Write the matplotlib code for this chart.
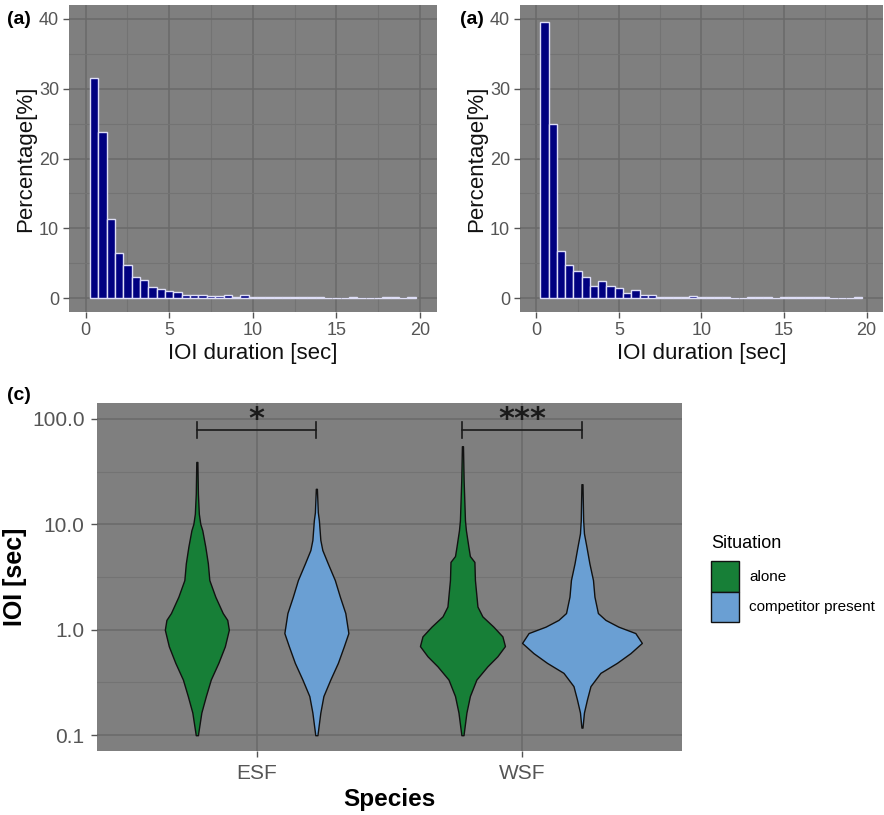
import numpy as np
import matplotlib
matplotlib.use('Agg')
import matplotlib.pyplot as plt
from matplotlib.patches import Patch
from matplotlib.ticker import FixedLocator, NullFormatter

plt.rcParams['font.family'] = ['Liberation Sans', 'DejaVu Sans']

# histogram bins (centre of each 0.5 s bin)
bin_centers = [0.5, 1.0, 1.5, 2.0, 2.5, 3.0, 3.5, 4.0, 4.5, 5.0,
               5.5, 6.0, 6.5, 7.0, 7.5, 8.0, 8.5, 9.0, 9.5, 10.0,
               10.5, 11.0, 11.5, 12.0, 12.5, 13.0, 13.5, 14.0, 14.5, 15.0,
               15.5, 16.0, 16.5, 17.0, 17.5, 18.0, 18.5, 19.0, 19.5]
pct_left = [31.5, 23.8, 11.3, 6.5, 4.7, 3.1, 2.6, 1.6, 1.3, 1.0,
            0.85, 0.5, 0.5, 0.5, 0.35, 0.3, 0.5, 0.2, 0.45, 0.1,
            0.1, 0.1, 0.1, 0.1, 0.1, 0.1, 0.1, 0.1, 0.0, 0.0,
            0.0, 0.15, 0.0, 0.0, 0.0, 0.1, 0.1, 0.05, 0.15]
pct_right = [39.6, 24.9, 6.8, 4.75, 3.85, 3.1, 1.8, 2.4, 1.7, 1.5,
             0.76, 1.1, 0.48, 0.48, 0.1, 0.1, 0.1, 0.1, 0.35, 0.1,
             0.1, 0.1, 0.1, 0.0, 0.0, 0.1, 0.1, 0.1, 0.0, 0.1,
             0.1, 0.1, 0.1, 0.1, 0.1, 0.05, 0.05, 0.05, 0.15]

# violin outlines: IOI value [sec] and full width (in category units)
species = ['ESF', 'WSF']
situations = ['alone', 'competitor present']
sit_colors = ['#177F37', '#6A9FD3']

esf_alone_ioi = [0.1, 0.164, 0.235, 0.337, 0.485, 0.697, 1.0, 1.24, 1.44, 2.06,
                 2.96, 4.26, 6.11, 8.77, 10.1, 12.6, 19.5, 39]
esf_alone_w = [0.008, 0.034, 0.068, 0.105, 0.162, 0.211, 0.241, 0.229, 0.195, 0.139,
               0.094, 0.083, 0.064, 0.041, 0.026, 0.015, 0.008, 0.004]
esf_comp_ioi = [0.1, 0.164, 0.235, 0.337, 0.485, 0.697, 0.93, 1.44, 2.06, 2.96,
                4.26, 5.7, 7.1, 10.9, 13, 21.7]
esf_comp_w = [0.008, 0.030, 0.053, 0.105, 0.162, 0.207, 0.241, 0.218, 0.177, 0.139,
              0.086, 0.045, 0.030, 0.019, 0.011, 0.004]
wsf_alone_ioi = [0.1, 0.164, 0.235, 0.337, 0.45, 0.56, 0.70, 0.865, 1.07, 1.34,
                 1.66, 2.96, 4.4, 5.0, 6.1, 8.8, 10.9, 26, 55]
wsf_alone_w = [0.008, 0.030, 0.056, 0.105, 0.188, 0.263, 0.320, 0.301, 0.233, 0.150,
               0.113, 0.094, 0.090, 0.056, 0.045, 0.026, 0.019, 0.009, 0.004]
wsf_comp_ioi = [0.118, 0.164, 0.219, 0.292, 0.39, 0.485, 0.60, 0.75, 0.93, 1.07,
                1.24, 1.44, 2.06, 2.96, 4.26, 6.1, 8.2, 10.9, 24]
wsf_comp_w = [0.004, 0.015, 0.038, 0.064, 0.139, 0.263, 0.365, 0.451, 0.402, 0.274,
              0.177, 0.120, 0.094, 0.083, 0.056, 0.034, 0.015, 0.009, 0.004]

sig_labels = ['*', '***']
sig_height = 79

BG = '#7f7f7f'
TICK = '#555555'


def style_panel(ax):
    ax.set_facecolor(BG)
    for s in ax.spines.values():
        s.set_visible(False)
    ax.grid(which='major', color='#6a6a6a', lw=1.1)
    ax.grid(which='minor', color='#737373', lw=0.8)
    ax.set_axisbelow(True)
    ax.tick_params(which='major', length=4, width=1, color=TICK, labelcolor=TICK)
    ax.tick_params(which='minor', length=0)


def draw_hist(ax, values):
    style_panel(ax)
    ax.bar(bin_centers, values, width=0.5, color='#000080', edgecolor='#dedef6', linewidth=1.0)
    ax.set_xlim(-1, 21)
    ax.set_ylim(-2, 42)
    ax.set_xticks([0, 5, 10, 15, 20])
    ax.set_xticks([2.5, 7.5, 12.5, 17.5], minor=True)
    ax.set_yticks([0, 10, 20, 30, 40])
    ax.set_yticks([5, 15, 25, 35], minor=True)
    ax.tick_params(labelsize=13, pad=3)
    ax.set_xlabel('IOI duration [sec]', fontsize=16, color='#111111', labelpad=3)
    ax.set_ylabel('Percentage[%]', fontsize=16, color='#111111', labelpad=2)


fig = plt.figure(figsize=(8.84, 8.15), dpi=100)
ax1 = fig.add_axes([0.078, 0.617, 0.416, 0.377])
ax2 = fig.add_axes([0.588, 0.617, 0.411, 0.377])
ax3 = fig.add_axes([0.110, 0.0785, 0.661, 0.427])

draw_hist(ax1, pct_left)
draw_hist(ax2, pct_right)

# violins
style_panel(ax3)
ax3.set_yscale('log')
violins = [(1, 0, esf_alone_ioi, esf_alone_w), (1, 1, esf_comp_ioi, esf_comp_w),
           (2, 0, wsf_alone_ioi, wsf_alone_w), (2, 1, wsf_comp_ioi, wsf_comp_w)]
for pos, k, ioi, w in violins:
    x0 = pos + (-0.225 if k == 0 else 0.225)
    hw = np.array(w) / 2
    ax3.fill_betweenx(ioi, x0 - hw, x0 + hw, facecolor=sit_colors[k],
                      edgecolor='#111111', lw=1.0)

for i, lab in enumerate(sig_labels):
    a, b = i + 1 - 0.225, i + 1 + 0.225
    ax3.plot([a, b], [sig_height, sig_height], color='#1a1a1a', lw=1.2)
    ax3.plot([a, a], [66, 93], color='#1a1a1a', lw=1.2)
    ax3.plot([b, b], [66, 93], color='#1a1a1a', lw=1.2)
    ax3.text(i + 1, 99, lab, ha='center', va='center', fontsize=22,
             family='DejaVu Sans', fontweight='bold', color='#1a1a1a')

ax3.set_xlim(0.4, 2.6)
ax3.set_ylim(10 ** -1.15, 10 ** 2.15)
ax3.set_xticks([1, 2])
ax3.set_xticklabels(species)
ax3.yaxis.set_major_locator(FixedLocator([0.1, 1, 10, 100]))
ax3.set_yticklabels(['0.1', '1.0', '10.0', '100.0'])
ax3.yaxis.set_minor_locator(FixedLocator([10 ** -0.5, 10 ** 0.5, 10 ** 1.5]))
ax3.yaxis.set_minor_formatter(NullFormatter())
ax3.tick_params(labelsize=15, pad=5)
ax3.tick_params(which='minor', length=0)
ax3.set_xlabel('Species', fontsize=17.5, fontweight='bold', labelpad=4)
ax3.set_ylabel('IOI [sec]', fontsize=18, fontweight='bold', labelpad=4)

handles = [Patch(facecolor=c, edgecolor='#111111', lw=1) for c in sit_colors]
fig.text(711 / 884, 1 - 544 / 815, 'Situation', fontsize=13, va='center')
fig.legend(handles, situations, loc='upper left',
           bbox_to_anchor=(711 / 884, 1 - 561 / 815), frameon=False,
           fontsize=11, handlelength=1.85, handleheight=2.7,
           labelspacing=0, handletextpad=0.65, borderpad=0, borderaxespad=0)

fig.text(7 / 884, 1 - 19 / 815, '(a)', fontsize=14, fontweight='bold', va='center')
fig.text(460 / 884, 1 - 19 / 815, '(a)', fontsize=14, fontweight='bold', va='center')
fig.text(7 / 884, 1 - 395 / 815, '(c)', fontsize=14, fontweight='bold', va='center')

fig.savefig('out.png', dpi=100, facecolor='white')
